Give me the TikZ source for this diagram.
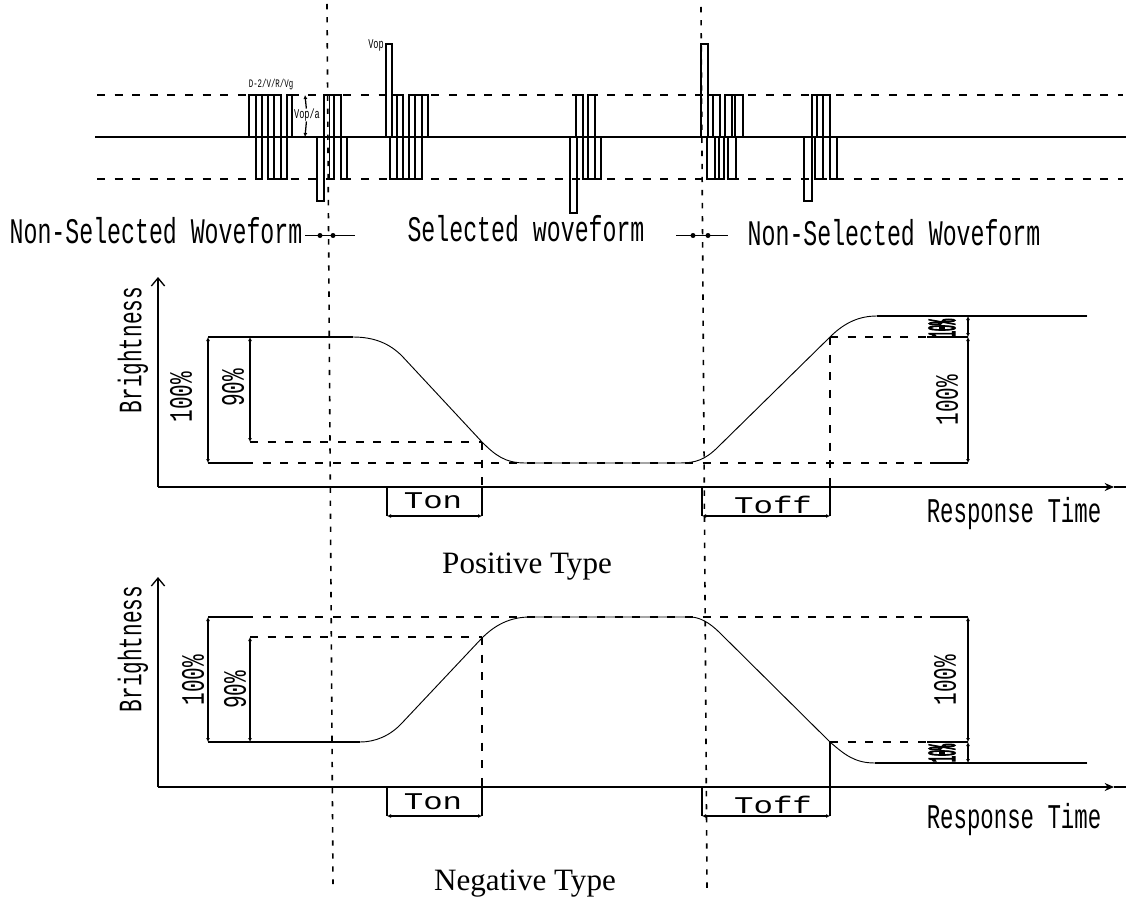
\documentclass[tikz,border=0pt]{standalone}
\usepackage{fontspec}
\setmainfont{Liberation Serif}
\newfontfamily\cadfont[FakeStretch=0.645]{Liberation Mono}
\newfontfamily\cadwide[FakeStretch=1.35]{Liberation Mono}
\newfontfamily\cadsquash[FakeStretch=0.25,FakeBold=2]{Liberation Mono}
\usetikzlibrary{arrows.meta}
\tikzset{
	waveline/.style={line width=0.95pt},
	dashline/.style={line width=0.95pt, dash pattern=on 6pt off 7.2pt},
	dotline/.style={line width=1.2pt, dash pattern=on 4pt off 5.8pt},
	dimline/.style={line width=0.95pt, {Latex[length=3pt,width=3pt]}-{Latex[length=3pt,width=3pt]}},
	curveline/.style={line width=0.7pt},
	axisline/.style={line width=1pt},
	cadlabel/.style={inner sep=0pt, font=\cadfont\fontsize{27}{27}\selectfont},
	timename/.style={inner sep=0pt, font=\cadfont\fontsize{26}{26}\selectfont},
	sidelabel/.style={inner sep=0pt, rotate=90, font=\cadfont\fontsize{24.5}{24.5}\selectfont},
	tinylabel/.style={inner sep=0pt, font=\cadfont\fontsize{10}{10}\selectfont},
	timelabel/.style={inner sep=0pt, font=\cadwide\fontsize{18}{18}\selectfont},
	squashlabel/.style={inner sep=0pt, rotate=90, font=\cadsquash\fontsize{30}{30}\selectfont},
	typelabel/.style={inner sep=0pt, anchor=base, font=\fontsize{23.3}{23.3}\selectfont},
}
\begin{document}
\begin{tikzpicture}[x=0.75pt, y=-0.75pt]
	\useasboundingbox (0,0) rectangle (1126,902);

	% waveform levels
	\coordinate (topl) at (97,95);
	\coordinate (topr) at (1123,95);
	\coordinate (midl) at (95,137);
	\coordinate (midr) at (1126,137);
	\coordinate (botl) at (97,179);
	\coordinate (botr) at (1123,179);
	\draw[dashline] (topl) -- (topr);
	\draw[dashline] (botl) -- (botr);

	% pulses
	\foreach \a/\b in {249/256, 262/268, 268/274, 274/281, 287/292, 324/329.5, 334/341,
		392/397, 397/403, 409/415, 422/428, 576/583, 588/595,
		708/713, 713/720, 725/732, 735/743, 812/817, 817/823, 823/830}
		\draw[waveline] (\a,137) rectangle (\b,95);
	\foreach \a/\b in {256/262, 268/274, 281/287, 329.5/334, 341/347,
		390/397, 403/409, 409/415, 415/422, 583/588, 588/595, 595/601,
		707/715, 719/724, 728/736, 815/823, 830/837}
		\draw[waveline] (\a,137) rectangle (\b,179);
	\foreach \a/\b/\c in {317/324/201, 386/392/44, 570/577/213, 701/708/44, 804/812/201}
		\draw[waveline] (\a,137) rectangle (\b,\c);
	\draw[waveline] (midl) -- (midr);

	% small labels on the waveform
	\node[tinylabel, font=\cadfont\fontsize{8.6}{8.6}\selectfont] (frame) at (271,85) {D-2/V/R/Vg};
	\node[tinylabel] (vop) at (376,45) {Vop};
	\node[tinylabel] (vopa) at (307,115) {Vop/a};
	\coordinate (vopatop) at (305,95);
	\coordinate (vopabot) at (305,137);
	\draw[waveline, -{Latex[length=3pt,width=3pt]}] (vopa) -- (vopatop);
	\draw[waveline, -{Latex[length=3pt,width=3pt]}] (vopa) -- (vopabot);

	% vertical dotted lines
	\coordinate (lefttop) at (327,4);
	\coordinate (leftbot) at (333,884);
	\coordinate (righttop) at (701,7);
	\coordinate (rightbot) at (707,888);
	\draw[dotline] (lefttop) -- (leftbot);
	\draw[dotline] (righttop) -- (rightbot);

	% waveform names
	\node[cadlabel] (nonleft) at (156,231) {Non-Selected Woveform};
	\node[cadlabel] (selected) at (526,229) {Selected woveform};
	\node[cadlabel] (nonright) at (894,233) {Non-Selected Woveform};
	\coordinate (markla) at (305,235.5);
	\coordinate (marklb) at (355,235.5);
	\coordinate (markra) at (676,235.5);
	\coordinate (markrb) at (728,235.5);
	\draw[waveline] (markla) -- (marklb);
	\draw[waveline] (markra) -- (markrb);
	\foreach \a in {320,333,693,708}
		\fill (\a,235.5) circle (2.5);

	% positive type
	\coordinate (oa) at (158,487);
	\coordinate (ya) at (158,277);
	\coordinate (tipa) at (1114,487);
	\coordinate (xa) at (1126,487);
	\draw[axisline, -{Straight Barb[length=6pt,width=10pt]}] (oa) -- (ya);
	\draw[axisline, -{Stealth[length=7pt,width=6pt]}] (oa) -- (tipa);
	\draw[axisline] (tipa) -- (xa);
	\node[sidelabel] (brighta) at (133,350) {Brightness};
	\node[timename] (timea) at (1014,514) {Response Time};
	\draw[curveline] (208,337) -- (353,337) .. controls (375,337) and (390,344) .. (402,356)
		-- (482,442) .. controls (495,455) and (505,463) .. (525,463)
		-- (680,463) .. controls (695,463) and (705,460) .. (718,447)
		-- (830,337) .. controls (845,322) and (860,316) .. (877,316) -- (1087,316);
	\draw[waveline] (208,337) -- (353,337);
	\draw[waveline] (877,316) -- (1087,316);
	\draw[dimline] (208,337) -- (208,463);
	\draw[dimline] (250,337) -- (250,442);
	\draw[waveline] (208,463) -- (245,463);
	\draw[dashline] (245,463) -- (930,463);
	\draw[waveline] (930,463) -- (968,463);
	\draw[dashline] (250,442) -- (482,442);
	\draw[dashline] (830,337) -- (927,337);
	\draw[waveline] (927,337) -- (968,337);
	\draw[dimline] (968,316) -- (968,337);
	\draw[dimline] (968,337) -- (968,463);
	\node[sidelabel] (fulla) at (181,397) {100\%};
	\node[sidelabel] (ninea) at (233,388) {90\%};
	\node[sidelabel] (fullb) at (947,400) {100\%};
	\node[squashlabel] (tena) at (942,328) {10\%};
	\draw[dashline] (482,442) -- (482,487);
	\draw[dashline] (830,337) -- (830,487);
	\draw[waveline] (482,487) -- (482,516);
	\draw[waveline] (387,487) -- (387,516);
	\draw[waveline] (702,487) -- (702,516);
	\draw[waveline] (830,487) -- (830,516);
	\draw[dimline] (387,516) -- (482,516);
	\draw[dimline] (702,516) -- (830,516);
	\node[timelabel] (tona) at (433,501) {Ton};
	\node[timelabel] (toffa) at (773,505) {Toff};
	\node[typelabel] (positive) at (527,573) {Positive Type};

	% negative type
	\coordinate (ob) at (158,787);
	\coordinate (yb) at (158,577);
	\coordinate (tipb) at (1114,787);
	\coordinate (xb) at (1126,787);
	\draw[axisline, -{Straight Barb[length=6pt,width=10pt]}] (ob) -- (yb);
	\draw[axisline, -{Stealth[length=7pt,width=6pt]}] (ob) -- (tipb);
	\draw[axisline] (tipb) -- (xb);
	\node[sidelabel] (brightb) at (133,649) {Brightness};
	\node[timename] (timeb) at (1014,820) {Response Time};
	\draw[curveline] (208,742) -- (360,742) .. controls (375,742) and (390,736) .. (402,723)
		-- (482,638) .. controls (495,625) and (510,617) .. (530,617)
		-- (690,617) .. controls (700,617) and (710,623) .. (720,633)
		-- (830,742) .. controls (845,755) and (855,763) .. (875,763) -- (1087,763);
	\draw[waveline] (208,742) -- (360,742);
	\draw[waveline] (875,763) -- (1087,763);
	\draw[dimline] (208,617) -- (208,742);
	\draw[dimline] (250,637) -- (250,742);
	\draw[waveline] (208,617) -- (245,617);
	\draw[dashline] (245,617) -- (930,617);
	\draw[waveline] (930,617) -- (968,617);
	\draw[dashline] (250,637) -- (482,637);
	\draw[dashline] (830,742) -- (927,742);
	\draw[waveline] (927,742) -- (968,742);
	\draw[dimline] (968,617) -- (968,742);
	\draw[dimline] (968,742) -- (968,763);
	\node[sidelabel] (fullc) at (193,680) {100\%};
	\node[sidelabel] (ninec) at (235,690) {90\%};
	\node[sidelabel] (fulld) at (945,680) {100\%};
	\node[squashlabel] (tenb) at (942,753) {10\%};
	\draw[dashline] (482,637) -- (482,787);
	\draw[waveline] (482,787) -- (482,816);
	\draw[waveline] (387,787) -- (387,816);
	\draw[waveline] (702,787) -- (702,816);
	\draw[waveline] (830,742) -- (830,816);
	\draw[dimline] (387,816) -- (482,816);
	\draw[dimline] (702,816) -- (830,816);
	\node[timelabel] (tonb) at (433,802) {Ton};
	\node[timelabel] (toffb) at (773,805) {Toff};
	\node[typelabel] (negative) at (525,890) {Negative Type};
\end{tikzpicture}
\end{document}
